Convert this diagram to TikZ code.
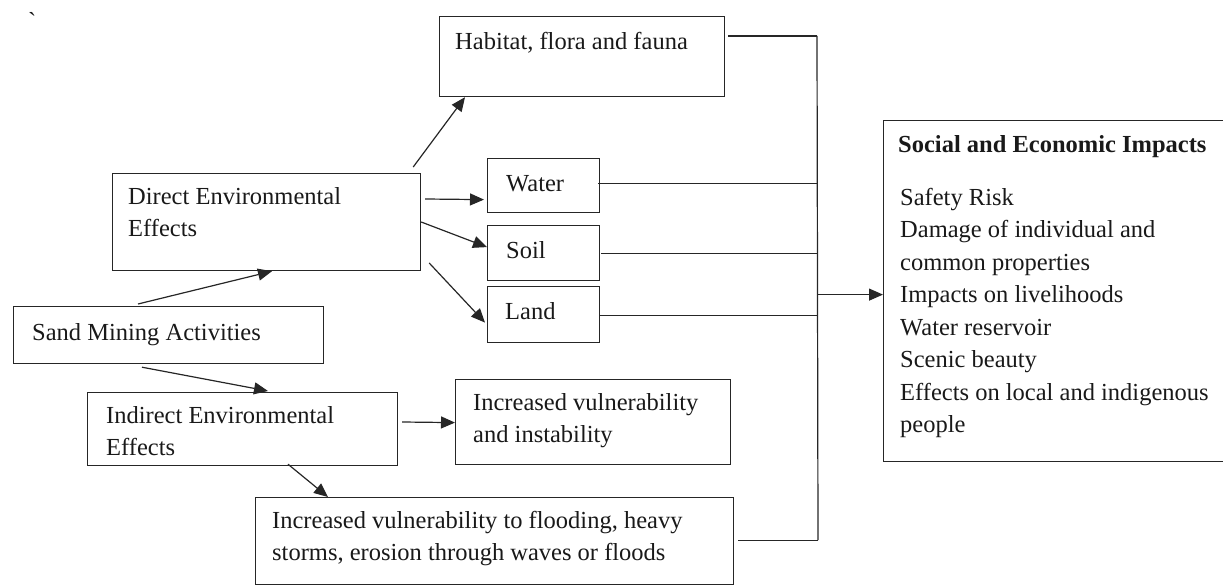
\documentclass[tikz,border=0pt]{standalone}
\usepackage{fontspec}
\setmainfont{Liberation Serif}
\usetikzlibrary{arrows.meta}
\newcommand{\mylines}[1]{\parbox[t]{20cm}{\raggedright #1}}
\begin{document}
\begin{tikzpicture}[x=1pt,y=-1pt,
 box/.style={draw=black!85, line width=1.2pt, rectangle, inner sep=0pt, anchor=north west},
 txt/.style={inner sep=0pt, anchor=base west, font=\fontsize{24.5pt}{32.5pt}\selectfont, text=black!90},
 arr/.style={draw=black!85, line width=1.2pt, -{Triangle[length=14pt,width=12pt]}},
 ln/.style={draw=black!85, line width=1.2pt}]
\useasboundingbox (0,0) rectangle (1223,586);
\clip (0,0) rectangle (1223,586);

% boxes
\node[box, minimum width=285pt, minimum height=80pt] (hab) at (439,16) {};
\node[box, minimum width=308pt, minimum height=97pt] (dir) at (112,173) {};
\node[box, minimum width=112pt, minimum height=54pt] (water) at (487,158) {};
\node[box, minimum width=112pt, minimum height=55pt] (soil) at (487,225) {};
\node[box, minimum width=112pt, minimum height=56pt] (land) at (487,286) {};
\node[box, minimum width=310pt, minimum height=57pt] (sand) at (13,306) {};
\node[box, minimum width=310pt, minimum height=73pt] (ind) at (87,392) {};
\node[box, minimum width=275pt, minimum height=85pt] (incr) at (455,379) {};
\node[box, minimum width=478pt, minimum height=87pt] (flood) at (255,497) {};
\node[box, minimum width=360pt, minimum height=341pt] (soc) at (883,120) {};

% texts
\node[txt] (tick) at (28,30) {\textasciigrave};
\node[txt] (habt) at (455,49) {Habitat, flora and fauna};
\node[txt] (dirt) at (128,204) {\mylines{Direct Environmental\\Effects}};
\node[txt] (watert) at (506,191) {Water};
\node[txt] (soilt) at (506,258) {Soil};
\node[txt] (landt) at (505,319) {Land};
\node[txt] (sandt) at (32,340) {Sand Mining Activities};
\node[txt] (indt) at (106,423) {\mylines{Indirect Environmental\\Effects}};
\node[txt] (incrt) at (473,410) {\mylines{Increased vulnerability\\and instability}};
\node[txt] (floodt) at (272,528) {\mylines{Increased vulnerability to flooding, heavy\\storms, erosion through waves or floods}};
\node[txt, font=\fontsize{24.5pt}{32.5pt}\selectfont\bfseries] (soctitle) at (898,152) {Social and Economic Impacts};
\node[txt] (soclist) at (900,205) {\mylines{Safety Risk\\Damage of individual and\\common properties\\Impacts on livelihoods\\Water reservoir\\Scenic beauty\\Effects on local and indigenous\\people}};

% arrows
\draw[arr] ([shift={(-8,-6)}]dir.north east) -- ([shift={(26,0)}]hab.south west);
\draw[arr] ([shift={(4,26)}]dir.north east) -- ([shift={(-3,14)}]water.west);
\draw[arr] ([shift={(0,49)}]dir.north east) -- ([shift={(0,-6)}]soil.west);
\draw[arr] ([shift={(8,90)}]dir.north east) -- ([shift={(-2,8)}]land.west);
\draw[arr] ([shift={(125,-2)}]sand.north west) -- ([shift={(160,0)}]dir.south west);
\draw[arr] ([shift={(129,3)}]sand.south west) -- ([shift={(181,-1)}]ind.north west);
\draw[arr] ([shift={(4,30)}]ind.north east) -- ([shift={(0,0.5)}]incr.west);
\draw[arr] ([shift={(201,-2)}]ind.south west) -- ([shift={(73,0)}]flood.north west);

% bus
\coordinate (bt) at (817,36);
\coordinate (bb) at (818,540);
\draw[ln] (bt) -- (bb);
\draw[ln] ([shift={(3,20)}]hab.north east) -- (bt);
\path ([shift={(-2,-2)}]water.east) coordinate (w1);
\draw[ln] (w1) -- (w1 -| bt);
\path ([shift={(1,0)}]soil.east) coordinate (s1);
\draw[ln] (s1) -- (s1 -| bt);
\path ([shift={(0,1)}]land.east) coordinate (l1);
\draw[ln] (l1) -- (l1 -| bt);
\path ([shift={(4,-1)}]flood.east) coordinate (f1);
\draw[ln] (f1) -- (f1 -| bb);
\path ([shift={(0,3.5)}]soc.west) coordinate (c1);
\draw[arr] (c1 -| bt) -- (c1);
\end{tikzpicture}
\end{document}
